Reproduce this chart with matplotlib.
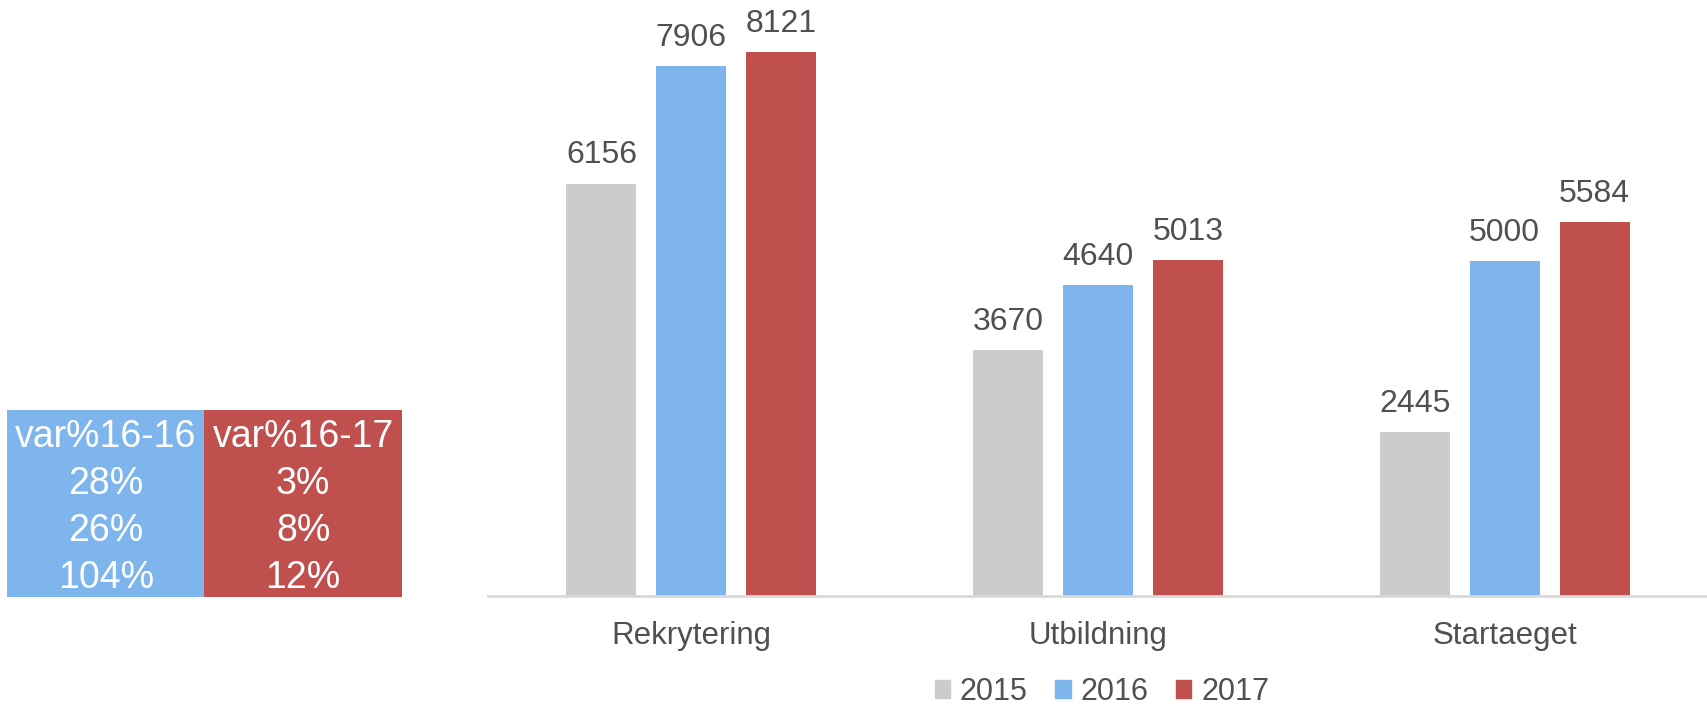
import numpy as np
import matplotlib
matplotlib.use('Agg')
import matplotlib.pyplot as plt
from matplotlib.patches import Patch

plt.rcParams['font.family'] = ['Liberation Sans', 'DejaVu Sans']

# datos
categorias = ['Rekrytering', 'Utbildning', 'Startaeget']
anios = ['2015', '2016', '2017']
v2015 = [6156, 3670, 2445]
v2016 = [7906, 4640, 5000]
v2017 = [8121, 5013, 5584]
colores = ['#cccccc', '#7eb5ed', '#c0504d']
texto = '#505050'

# tabla de variaciones
col_tabla = ['var%16-16', 'var%16-17']
var_16 = ['28%', '26%', '104%']
var_17 = ['3%', '8%', '12%']

fig = plt.figure(figsize=(17.08, 7.08), dpi=100)

# grafico de barras
ax = fig.add_axes([488/1708, 112/708, 1220/1708, 596/708])
x = np.arange(len(categorias))
ancho = 0.172
paso = 0.221
series = [v2015, v2016, v2017]
for i, vals in enumerate(series):
    barras = ax.bar(x + (i-1)*paso, vals, ancho, color=colores[i], label=anios[i], zorder=2)
    for b, v in zip(barras, vals):
        ax.annotate(str(v), (b.get_x() + b.get_width()/2, v), xytext=(0, 14.5),
                    textcoords='offset points', ha='center', va='baseline',
                    fontsize=23, color=texto)
ax.set_xlim(-0.5, 2.5)
ax.set_ylim(0, 8897)
ax.set_yticks([])
ax.set_xticks(x)
ax.set_xticklabels(categorias, fontsize=22.5, color=texto)
ax.tick_params(axis='x', length=0, pad=18)
for s in ['top', 'right', 'left']:
    ax.spines[s].set_visible(False)
ax.spines['bottom'].set_color('#d9d9d9')
ax.spines['bottom'].set_linewidth(2)

# leyenda
handles = [Patch(color=c) for c in colores]
fig.legend(handles, anios, loc='center', bbox_to_anchor=(1102/1708, 1-692/708), ncol=3,
           frameon=False, fontsize=22, handlelength=0.5, handleheight=0.5,
           handletextpad=0.33, columnspacing=0.9, labelcolor=texto)

# tabla
axt = fig.add_axes([7/1708, 111/708, 395/1708, 187/708])
axt.axis('off')
filas = [col_tabla] + [[a, b] for a, b in zip(var_16, var_17)]
colores_celda = [['#7eb5ed', '#c0504d'] for _ in filas]
tabla = axt.table(cellText=filas, cellColours=colores_celda, cellLoc='center', bbox=[0, 0, 1, 1])
tabla.auto_set_font_size(False)
for (r, c), celda in tabla.get_celld().items():
    celda.set_edgecolor(colores_celda[r][c])
    celda.set_linewidth(0)
    t = celda.get_text()
    t.set_color('white')
    t.set_fontsize(27)
    t.set_va('center_baseline')

fig.savefig('out.png', dpi=100)
